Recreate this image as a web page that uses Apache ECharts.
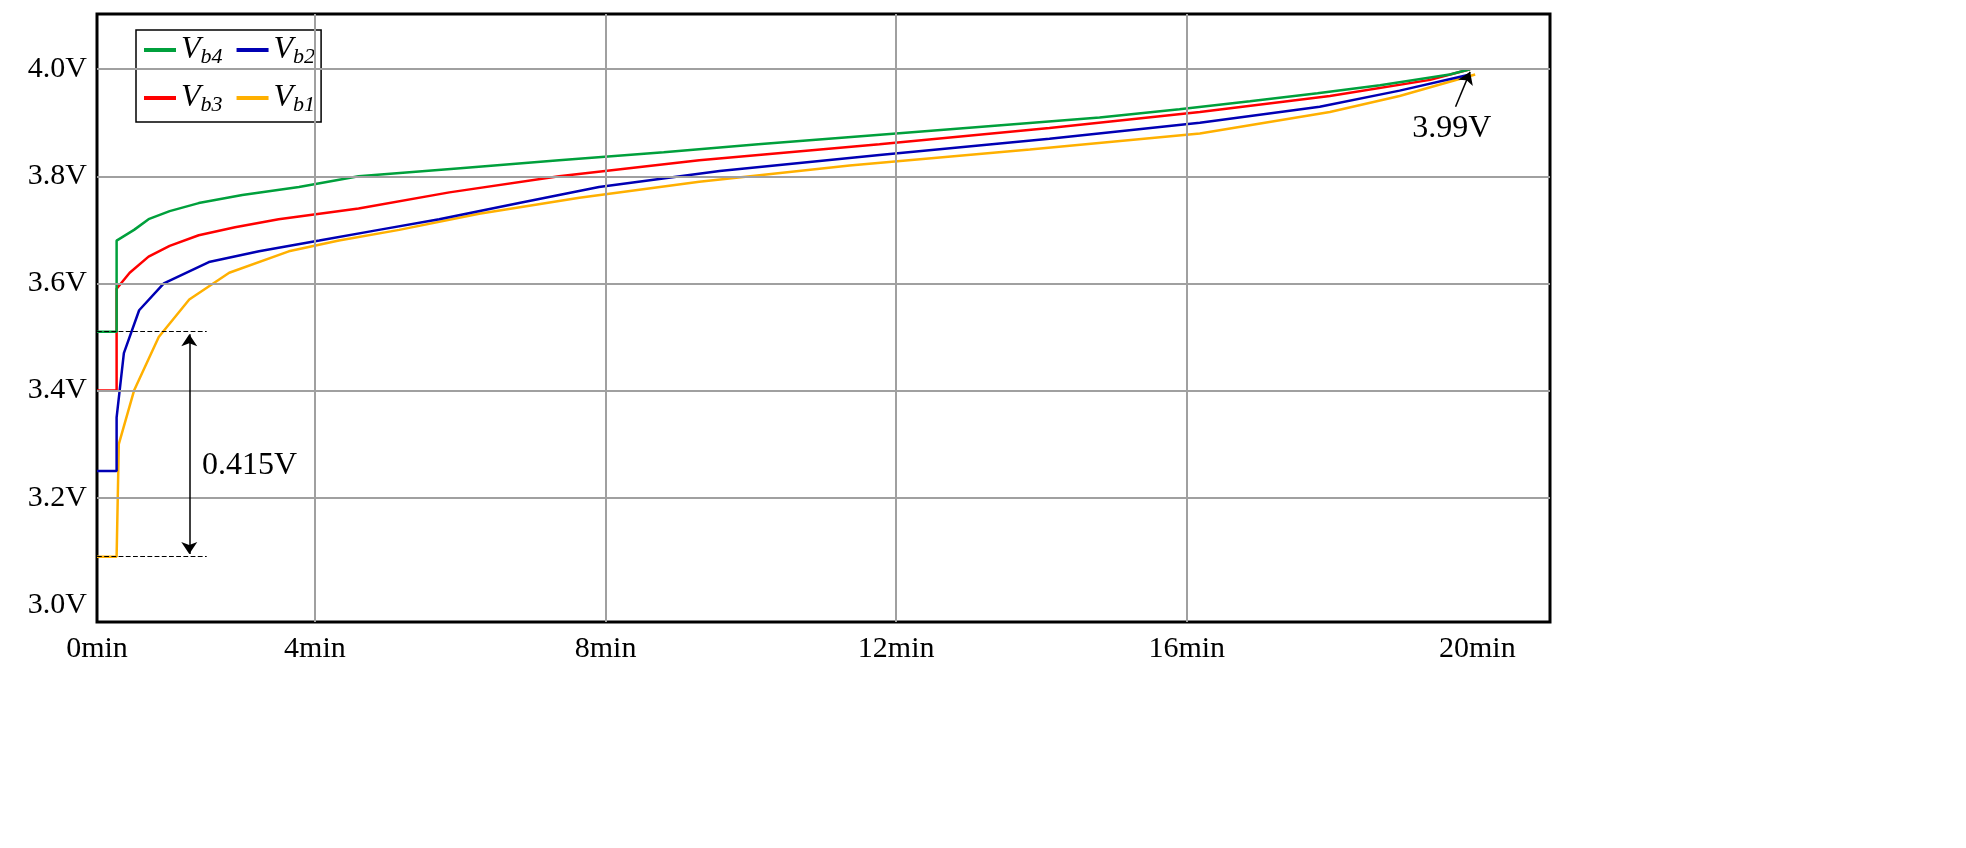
<!DOCTYPE html>
<html>
<head>
<meta charset="utf-8">
<script src="https://cdn.jsdelivr.net/npm/echarts@6/dist/echarts.min.js"></script>
<style>html,body{margin:0;background:#fff}#chart{width:1966px;height:848px}</style>
</head>
<body>
<div id="chart"></div>
<script>
// time in min, voltage in V
const vb4 = [[1,3.51],[1.27,3.51],[1.27,3.68],[1.51,3.70],[1.71,3.72],[2.0,3.735],[2.40,3.75],[3.0,3.765],[3.78,3.78],[4.6,3.80],[6.0,3.815],[7.36,3.83],[8.8,3.845],[10.1,3.86],[12.0,3.88],[13.4,3.895],[14.8,3.91],[15.9,3.925],[16.87,3.94],[17.8,3.955],[18.66,3.97],[19.62,3.99],[19.9,4.0]];
const vb3 = [[1,3.40],[1.27,3.40],[1.27,3.59],[1.45,3.62],[1.71,3.65],[2.0,3.67],[2.40,3.69],[2.9,3.705],[3.50,3.72],[4.6,3.74],[5.85,3.77],[7.36,3.80],[9.29,3.83],[11.77,3.86],[14.11,3.89],[16.18,3.92],[17.97,3.95],[19.35,3.98],[19.9,4.0]];
const vb2 = [[1,3.25],[1.27,3.25],[1.27,3.35],[1.37,3.47],[1.58,3.55],[1.92,3.60],[2.54,3.64],[3.23,3.66],[4.06,3.68],[4.88,3.70],[5.71,3.72],[6.81,3.75],[7.91,3.78],[9.57,3.81],[11.77,3.84],[14.11,3.87],[16.18,3.90],[17.83,3.93],[18.93,3.96],[19.9,3.99]];
const vb1 = [[1,3.09],[1.27,3.09],[1.30,3.30],[1.51,3.40],[1.85,3.50],[2.27,3.57],[2.82,3.62],[3.64,3.66],[4.33,3.68],[5.16,3.70],[6.26,3.73],[7.64,3.76],[9.29,3.79],[11.36,3.82],[13.84,3.85],[16.18,3.88],[17.97,3.92],[18.93,3.95],[19.97,3.99]];
const xTicks = [1, 4, 8, 12, 16, 20];
const yTicks = [3.0, 3.2, 3.4, 3.6, 3.8, 4.0];

const font = "Liberation Serif";
const chart = echarts.init(document.getElementById("chart"));

function lbl(name) {
  return "{v|V}{s|" + name.slice(1) + "}";
}
const gridLines = [];
xTicks.slice(1, 5).forEach(v => gridLines.push({ xAxis: v }));
yTicks.slice(1).forEach(v => gridLines.push({ yAxis: v }));

function line(name, data, color) {
  return { name: name, type: "line", data: data, symbol: "none", lineStyle: { color: color, width: 2.5 }, itemStyle: { color: color }, z: 3 };
}

chart.setOption({
  animation: false,
  grid: { left: 97, right: 416, top: 14, bottom: 226, show: true, borderColor: "#000", borderWidth: 3 },
  xAxis: {
    type: "value", min: 1, max: 21.0,
    splitLine: { show: false }, axisTick: { show: false }, axisLine: { show: false },
    axisLabel: { customValues: xTicks, formatter: v => (v === 1 ? 0 : v) + "min", fontFamily: font, fontSize: 30, color: "#000", margin: 12 }
  },
  yAxis: {
    type: "value", min: 2.968, max: 4.103,
    splitLine: { show: false }, axisTick: { show: false }, axisLine: { show: false },
    axisLabel: { customValues: yTicks, formatter: v => v.toFixed(1) + "V", fontFamily: font, fontSize: 30, color: "#000", margin: 10 }
  },
  legend: {
    data: ["Vb4", "Vb2", "Vb3", "Vb1"], left: 136, top: 30, width: 200,
    backgroundColor: "#fff", borderColor: "#000", borderWidth: 1.5, padding: [4, 6, 6, 8],
    itemWidth: 32, itemHeight: 4, itemGap: 14, icon: "rect",
    formatter: lbl,
    textStyle: { rich: {
      v: { fontFamily: font, fontSize: 32, fontStyle: "italic", color: "#000" },
      s: { fontFamily: font, fontSize: 22, fontStyle: "italic", color: "#000", verticalAlign: "bottom", padding: [14, 0, 0, 0] }
    } }
  },
  series: [
    {
      type: "line", data: [], silent: true, z: 1,
      markLine: { silent: true, symbol: "none", label: { show: false }, lineStyle: { color: "#a0a0a0", width: 2, type: "solid" }, data: gridLines }
    },
    line("Vb1", vb1, "#ffb000"),
    line("Vb2", vb2, "#0000b4"),
    line("Vb3", vb3, "#ff0000"),
    line("Vb4", vb4, "#00a03c"),
    {
      type: "scatter", data: [], silent: true, z: 5,
      markLine: {
        silent: true, symbol: "none", label: { show: false }, animation: false,
        data: [
          [{ coord: [1, 3.51], lineStyle: { type: "dashed", color: "#000", width: 1.2 } }, { coord: [2.51, 3.51] }],
          [{ coord: [1, 3.09], lineStyle: { type: "dashed", color: "#000", width: 1.2 } }, { coord: [2.51, 3.09] }],
          [{ coord: [2.27, 3.505], symbol: "arrow", lineStyle: { type: "solid", color: "#000", width: 1.5 } }, { coord: [2.27, 3.095], symbol: "arrow" }],
          [{ coord: [19.7, 3.93], symbol: "none", lineStyle: { type: "solid", color: "#000", width: 1.5 } }, { coord: [19.9, 3.995], symbol: "arrow" }]
        ],
        symbolSize: 12
      },
      markPoint: {
        silent: true, symbol: "rect", symbolSize: 1, itemStyle: { color: "transparent" },
        label: { show: true, fontFamily: font, fontSize: 32, color: "#000" },
        data: [
          { coord: [3.1, 3.26], value: "0.415V", label: { formatter: "0.415V" } },
          { coord: [19.65, 3.89], value: "3.99V", label: { formatter: "3.99V" } }
        ]
      }
    }
  ]
});
window.addEventListener("resize", () => chart.resize());
</script>
</body>
</html>
